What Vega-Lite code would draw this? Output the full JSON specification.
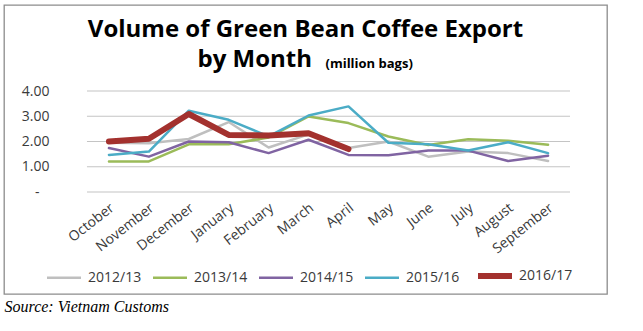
{
  "$schema": "https://vega.github.io/schema/vega-lite/v6.json",
  "width": 603,
  "height": 289,
  "autosize": {"type": "none"},
  "padding": {"left": 4, "top": 5, "right": 36, "bottom": 37},
  "config": {
    "view": {"stroke": "#8c8c8c", "strokeWidth": 1.3},
    "font": "Open Sans"
  },
  "title": {
    "text": "Volume of Green Bean Coffee Export",
    "font": "Open Sans",
    "fontSize": 24,
    "fontWeight": "bold",
    "color": "black",
    "offset": -37,
    "anchor": "middle",
    "frame": "group"
  },
  "resolve": {"axis": {"x": "independent"}},
  "datasets": {
    "grid": [{"v": 0}, {"v": 1}, {"v": 2}, {"v": 3}, {"v": 4}],
    "exports": [
      {"month": "October", "season": "2012/13", "value": 1.95},
      {"month": "November", "season": "2012/13", "value": 1.93},
      {"month": "December", "season": "2012/13", "value": 2.1},
      {"month": "January", "season": "2012/13", "value": 2.77},
      {"month": "February", "season": "2012/13", "value": 1.76},
      {"month": "March", "season": "2012/13", "value": 2.28},
      {"month": "April", "season": "2012/13", "value": 1.74},
      {"month": "May", "season": "2012/13", "value": 2.0},
      {"month": "June", "season": "2012/13", "value": 1.4},
      {"month": "July", "season": "2012/13", "value": 1.6},
      {"month": "August", "season": "2012/13", "value": 1.54},
      {"month": "September", "season": "2012/13", "value": 1.23},
      {"month": "October", "season": "2013/14", "value": 1.21},
      {"month": "November", "season": "2013/14", "value": 1.21},
      {"month": "December", "season": "2013/14", "value": 1.89},
      {"month": "January", "season": "2013/14", "value": 1.89},
      {"month": "February", "season": "2013/14", "value": 2.16},
      {"month": "March", "season": "2013/14", "value": 2.99},
      {"month": "April", "season": "2013/14", "value": 2.73},
      {"month": "May", "season": "2013/14", "value": 2.2},
      {"month": "June", "season": "2013/14", "value": 1.86},
      {"month": "July", "season": "2013/14", "value": 2.09},
      {"month": "August", "season": "2013/14", "value": 2.03},
      {"month": "September", "season": "2013/14", "value": 1.87},
      {"month": "October", "season": "2014/15", "value": 1.74},
      {"month": "November", "season": "2014/15", "value": 1.4},
      {"month": "December", "season": "2014/15", "value": 2.0},
      {"month": "January", "season": "2014/15", "value": 1.97},
      {"month": "February", "season": "2014/15", "value": 1.54},
      {"month": "March", "season": "2014/15", "value": 2.07},
      {"month": "April", "season": "2014/15", "value": 1.47},
      {"month": "May", "season": "2014/15", "value": 1.46},
      {"month": "June", "season": "2014/15", "value": 1.64},
      {"month": "July", "season": "2014/15", "value": 1.64},
      {"month": "August", "season": "2014/15", "value": 1.23},
      {"month": "September", "season": "2014/15", "value": 1.44},
      {"month": "October", "season": "2015/16", "value": 1.47},
      {"month": "November", "season": "2015/16", "value": 1.6},
      {"month": "December", "season": "2015/16", "value": 3.22},
      {"month": "January", "season": "2015/16", "value": 2.86},
      {"month": "February", "season": "2015/16", "value": 2.2},
      {"month": "March", "season": "2015/16", "value": 3.03},
      {"month": "April", "season": "2015/16", "value": 3.39},
      {"month": "May", "season": "2015/16", "value": 1.95},
      {"month": "June", "season": "2015/16", "value": 1.89},
      {"month": "July", "season": "2015/16", "value": 1.64},
      {"month": "August", "season": "2015/16", "value": 1.97},
      {"month": "September", "season": "2015/16", "value": 1.54},
      {"month": "October", "season": "2016/17", "value": 2.0},
      {"month": "November", "season": "2016/17", "value": 2.11},
      {"month": "December", "season": "2016/17", "value": 3.09},
      {"month": "January", "season": "2016/17", "value": 2.26},
      {"month": "February", "season": "2016/17", "value": 2.24},
      {"month": "March", "season": "2016/17", "value": 2.33},
      {"month": "April", "season": "2016/17", "value": 1.7}
    ]
  },
  "layer": [
    {
      "data": {"name": "grid"},
      "mark": {"type": "rule", "color": "#c4c4c4", "strokeWidth": 1.2, "xOffset": -22, "x2Offset": 22},
      "encoding": {
        "y": {"field": "v", "type": "quantitative", "scale": {"domain": [0, 4], "range": [187, 86]}},
        "x": {
          "datum": "October",
          "type": "ordinal",
          "axis": {
            "orient": "top",
            "labels": false,
            "domain": false,
            "ticks": false,
            "grid": false,
            "title": "(million bags)",
            "titleX": 321,
            "titleY": 62,
            "titleAlign": "left",
            "titleAnchor": "start",
            "titleBaseline": "alphabetic",
            "titleFont": "Open Sans",
            "titleFontSize": 13,
            "titleFontWeight": "bold",
            "titleColor": "black"
          }
        },
        "x2": {"datum": "September"}
      }
    },
    {
      "data": {"name": "exports"},
      "mark": {"type": "line", "strokeJoin": "round", "strokeCap": "round"},
      "encoding": {
        "x": {
          "field": "month",
          "type": "ordinal",
          "sort": null,
          "scale": {"type": "point", "domain": ["October", "November", "December", "January", "February", "March", "April", "May", "June", "July", "August", "September"], "range": [85, 564]},
          "axis": {
            "orient": "bottom",
            "offset": -102,
            "labelAngle": -38,
            "labelAlign": "right",
            "labelBaseline": "middle",
            "labelPadding": 14,
            "labelOffset": 3,
            "labelFontSize": 14,
            "labelColor": "#3a3a3a",
            "labelOverlap": false,
            "labelFlush": false,
            "labelBound": false,
            "domain": false,
            "ticks": false,
            "grid": false,
            "title": "Source: Vietnam Customs",
            "titleX": 0,
            "titleY": 119,
            "titleAlign": "left",
            "titleAnchor": "start",
            "titleBaseline": "alphabetic",
            "titleFont": "Liberation Serif",
            "titleFontStyle": "italic",
            "titleFontWeight": "normal",
            "titleFontSize": 16,
            "titleColor": "black"
          }
        },
        "y": {
          "field": "value",
          "type": "quantitative",
          "scale": {"domain": [0, 4], "range": [187, 86]},
          "axis": {
            "values": [0, 1, 2, 3, 4],
            "labelExpr": "datum.value == 0 ? '-\u2800' : format(datum.value, '.2f')",
            "offset": -47,
            "labelPadding": 2,
            "labelFontSize": 14,
            "labelColor": "#3a3a3a",
            "domain": false,
            "ticks": false,
            "grid": false,
            "title": "by Month",
            "titleAngle": 0,
            "titleX": 146,
            "titleY": 61,
            "titleAlign": "left",
            "titleAnchor": "start",
            "titleBaseline": "alphabetic",
            "titleFont": "Open Sans",
            "titleFontSize": 24,
            "titleFontWeight": "bold",
            "titleColor": "black"
          }
        },
        "color": {
          "field": "season",
          "type": "nominal",
          "scale": {"domain": ["2012/13", "2013/14", "2014/15", "2015/16", "2016/17"], "range": ["#bfbfbf", "#9bbb59", "#8064a2", "#4bacc6", "#a3312e"]},
          "legend": {
            "orient": "none",
            "legendX": 40,
            "legendY": 251,
            "direction": "horizontal",
            "columns": 5,
            "title": null,
            "symbolType": "stroke",
            "symbolSize": 1156,
            "labelFontSize": 14,
            "labelOffset": 4,
            "columnPadding": 6,
            "labelColor": "#3a3a3a",
            "padding": 0
          }
        },
        "strokeWidth": {
          "field": "season",
          "type": "nominal",
          "scale": {"type": "ordinal", "domain": ["2012/13", "2013/14", "2014/15", "2015/16", "2016/17"], "range": [2.5, 2.5, 2.5, 2.5, 6]},
          "legend": {
            "orient": "none",
            "legendX": 40,
            "legendY": 251,
            "direction": "horizontal",
            "columns": 5,
            "title": null,
            "symbolType": "stroke",
            "symbolSize": 1156,
            "labelFontSize": 14,
            "labelOffset": 4,
            "columnPadding": 6,
            "labelColor": "#3a3a3a",
            "padding": 0
          }
        }
      }
    }
  ]
}
